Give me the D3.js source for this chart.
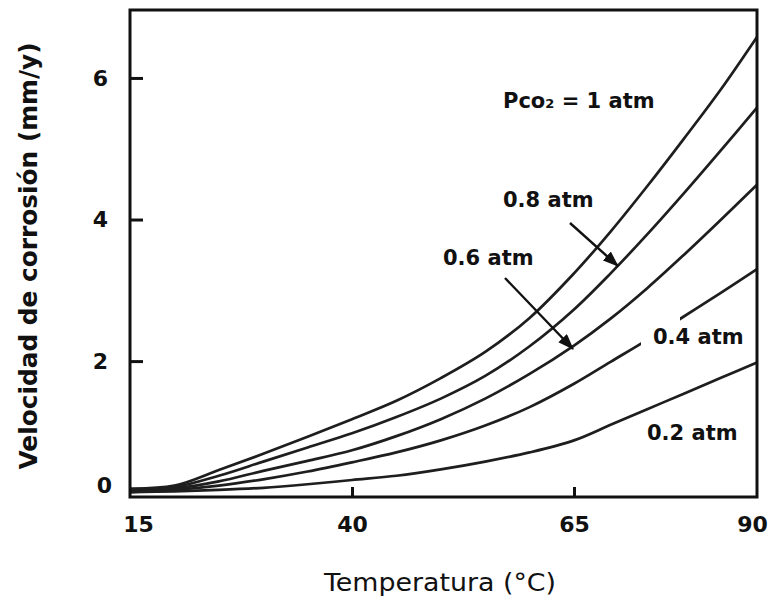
<!DOCTYPE html>
<html>
<head>
  <meta charset="utf-8">
  <title>Velocidad de corrosión vs temperatura</title>
  <script src="https://cdn.jsdelivr.net/npm/d3@7"></script>
  <style>
    body {
      margin: 0;
      padding: 0;
      background: #fff;
    }
    .frame {
      fill: none;
      stroke: #111;
      stroke-width: 3px;
    }
    .curve {
      fill: none;
      stroke: #1e1e1e;
      stroke-width: 2.7px;
    }
    .tick line {
      stroke: #111;
      stroke-width: 3px;
    }
    .tick text {
      font-family: "DejaVu Sans", sans-serif;
      font-weight: bold;
      font-size: 22px;
      fill: #111;
    }
    .lbl {
      font-family: "DejaVu Sans", sans-serif;
      font-weight: bold;
      font-size: 21px;
      fill: #111;
    }
    .arrow {
      stroke: #111;
      stroke-width: 2.4px;
    }
  </style>
</head>
<body>
  <div id="chart"></div>

  <script>
    // temperatures (°C) at which the curves were read
    var temps = [15, 20, 25, 30, 35, 40, 45, 50, 55, 60, 65, 70, 75, 80, 85, 90];

    // corrosion rate (mm/y) for each CO2 partial pressure
    var p10 = [0.20, 0.24, 0.46, 0.69, 0.93, 1.18, 1.44, 1.76, 2.13, 2.61, 3.24, 3.83, 4.47, 5.14, 5.83, 6.58];
    var p08 = [0.18, 0.22, 0.38, 0.58, 0.78, 0.98, 1.21, 1.47, 1.79, 2.21, 2.73, 3.24, 3.79, 4.37, 4.97, 5.58];
    var p06 = [0.16, 0.20, 0.30, 0.45, 0.59, 0.74, 0.94, 1.18, 1.47, 1.82, 2.22, 2.60, 3.03, 3.50, 3.99, 4.49];
    var p04 = [0.15, 0.18, 0.24, 0.33, 0.44, 0.57, 0.71, 0.88, 1.09, 1.35, 1.68, 1.99, 2.30, 2.63, 2.96, 3.30];
    var p02 = [0.15, 0.16, 0.18, 0.21, 0.26, 0.32, 0.38, 0.47, 0.58, 0.71, 0.88, 1.10, 1.32, 1.54, 1.76, 1.98];

    var seriesNames = ["1", "0.8", "0.6", "0.4", "0.2"];
    var seriesValues = [p10, p08, p06, p04, p02];

    // axis ticks and labels
    var xTicks = [15, 40, 65, 90];
    var yTicks = [0, 2, 4, 6];
    var xTitle = "Temperatura (°C)";
    var yTitle = "Velocidad de corrosión (mm/y)";

    var width = 769,
      height = 600;

    var svg = d3.select("#chart")
      .append("svg")
      .attr("width", width)
      .attr("height", height);

    // the original axis is not evenly spaced after 65, so piecewise
    var x = d3.scaleLinear()
      .domain([15, 40, 65, 90])
      .range([130, 352, 574, 757]);

    var y = d3.scaleLinear()
      .domain([0.08, 6.96])
      .range([497, 10]);

    var line = d3.line()
      .x(function(d) { return x(d[0]); })
      .y(function(d) { return y(d[1]); })
      .curve(d3.curveCatmullRom.alpha(0.5));

    var defs = svg.append("defs");

    defs.append("marker")
      .attr("id", "head")
      .attr("markerUnits", "userSpaceOnUse")
      .attr("viewBox", "0 0 16 12")
      .attr("refX", 15)
      .attr("refY", 6)
      .attr("markerWidth", 16)
      .attr("markerHeight", 12)
      .attr("orient", "auto")
      .append("path")
      .attr("d", "M0,0 L16,6 L0,12 Z")
      .attr("fill", "#111");

    var curvesG = svg.append("g");
    var labelsG = svg.append("g");

    var paths = curvesG.selectAll("path")
      .data(seriesValues)
      .enter()
      .append("path")
      .attr("class", "curve")
      .attr("d", function(vals) {
        return line(temps.map(function(t, i) { return [t, vals[i]]; }));
      });

    // frame
    svg.append("rect")
      .attr("class", "frame")
      .attr("x", x(15))
      .attr("y", y(6.96))
      .attr("width", x(90) - x(15))
      .attr("height", y(0.08) - y(6.96));

    // y axis
    var yAxis = svg.append("g")
      .attr("transform", "translate(" + x(15) + ",0)")
      .call(d3.axisLeft(y).tickValues(yTicks).tickFormat(d3.format("d"))
        .tickSizeInner(-13).tickSizeOuter(0).tickPadding(22));
    yAxis.select(".domain").remove();
    yAxis.selectAll(".tick").filter(function(d) { return d === 0; })
      .select("line").remove();
    yAxis.selectAll(".tick").filter(function(d) { return d === 0; })
      .select("text").attr("dx", 4).attr("dy", "-0.45em");

    // x axis
    var xAxis = svg.append("g")
      .attr("transform", "translate(0," + y(0.08) + ")")
      .call(d3.axisBottom(x).tickValues(xTicks).tickFormat(d3.format("d"))
        .tickSizeInner(-10).tickSizeOuter(0).tickPadding(19));
    xAxis.select(".domain").remove();
    xAxis.selectAll(".tick").filter(function(d) { return d === 15 || d === 90; })
      .select("line").remove();
    xAxis.selectAll(".tick").filter(function(d) { return d === 15; })
      .select("text").attr("dx", 8);
    xAxis.selectAll(".tick").filter(function(d) { return d === 90; })
      .select("text").attr("dx", -5);

    // axis titles
    svg.append("text")
      .attr("x", 440)
      .attr("y", 591)
      .attr("text-anchor", "middle")
      .attr("textLength", 232)
      .attr("lengthAdjust", "spacingAndGlyphs")
      .style("font-family", "'DejaVu Sans', sans-serif")
      .style("font-size", "25px")
      .style("fill", "#111")
      .text(xTitle);

    svg.append("text")
      .attr("transform", "translate(37,256) rotate(-90)")
      .attr("text-anchor", "middle")
      .attr("textLength", 427)
      .attr("lengthAdjust", "spacingAndGlyphs")
      .style("font-family", "'DejaVu Sans', sans-serif")
      .style("font-weight", "bold")
      .style("font-size", "24px")
      .style("fill", "#111")
      .text(yTitle);

    // curve labels
    var t1 = labelsG.append("text").attr("class", "lbl").attr("x", 503).attr("y", 108);
    t1.append("tspan").text("Pco");
    t1.append("tspan").style("font-size", "13px").text("2");
    t1.append("tspan").text(" = " + seriesNames[0] + " atm");

    labelsG.append("text").attr("class", "lbl").attr("x", 503).attr("y", 207)
      .text(seriesNames[1] + " atm");
    labelsG.append("text").attr("class", "lbl").attr("x", 443).attr("y", 265)
      .text(seriesNames[2] + " atm");
    var t04 = labelsG.append("text").attr("class", "lbl").attr("x", 653).attr("y", 344)
      .text(seriesNames[3] + " atm");
    labelsG.append("text").attr("class", "lbl").attr("x", 647).attr("y", 440)
      .text(seriesNames[4] + " atm");

    // break the 0.4 atm curve above the start of its label
    var bb = t04.node().getBBox();
    var mask = defs.append("mask").attr("id", "gap04");
    mask.append("rect").attr("width", width).attr("height", height).attr("fill", "white");
    mask.append("rect")
      .attr("x", bb.x - 12).attr("y", bb.y - 22)
      .attr("width", 39).attr("height", bb.height + 22)
      .attr("fill", "black");
    paths.filter(function(d, i) { return i === 3; }).attr("mask", "url(#gap04)");

    // arrows to the 0.8 and 0.6 curves
    labelsG.append("line").attr("class", "arrow")
      .attr("x1", 570).attr("y1", 223).attr("x2", 618).attr("y2", 266)
      .attr("marker-end", "url(#head)");
    labelsG.append("line").attr("class", "arrow")
      .attr("x1", 505).attr("y1", 278).attr("x2", 573).attr("y2", 349)
      .attr("marker-end", "url(#head)");
  </script>
</body>
</html>
